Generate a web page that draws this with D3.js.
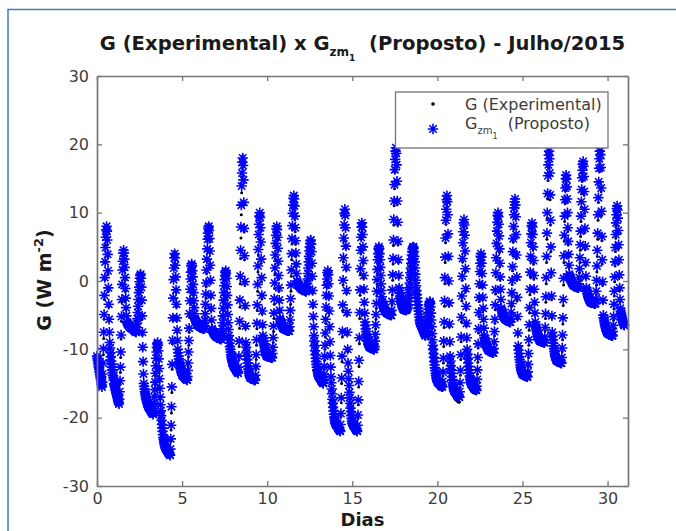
<!DOCTYPE html>
<html>
<head>
<meta charset="utf-8">
<script src="https://cdn.jsdelivr.net/npm/d3@7"></script>
<style>
  html, body { margin: 0; padding: 0; background: #ffffff; }
  svg { display: block; }
  text { font-family: "DejaVu Sans", "Liberation Sans", sans-serif; }
</style>
</head>
<body>
<svg id="chart" width="676" height="531"></svg>
<script>
// Half-hourly samples: each row is one day of July 2015 (48 values, W m-2)
const amostrasPorDia = 48;
const ticksDias = [0, 5, 10, 15, 20, 25, 30];
const ticksG = [-30, -20, -10, 0, 10, 20, 30];

// G measured (experimental)
const gExperimental = [
  [-11.0,-11.4,-11.6,-11.9,-12.3,-12.7,-12.9,-13.2,-13.6,-14.0,-14.2,-14.5,-14.8,-15.2,-15.6,-14.9,-13.9,-12.6,-10.8,-8.4,-5.6,-2.7,0.2,2.9,5.3,6.9,7.8,8.2,7.4,6.0,3.6,1.0,-1.5,-3.8,-5.9,-7.6,-9.1,-9.8,-10.6,-11.1,-11.7,-12.3,-12.9,-13.2,-13.6,-13.9,-14.2,-14.6],
  [-15.1,-15.2,-15.4,-15.7,-15.9,-16.1,-16.4,-16.5,-16.7,-17.0,-17.1,-17.4,-17.7,-17.9,-18.1,-17.5,-16.5,-15.1,-13.4,-11.2,-8.5,-5.9,-3.1,-0.6,1.8,3.3,4.4,4.7,4.2,3.1,1.7,0.1,-1.5,-2.8,-4.1,-5.2,-6.1,-6.2,-6.3,-6.2,-6.5,-6.5,-6.4,-6.7,-6.7,-6.6,-6.8,-6.9],
  [-6.9,-6.9,-7.0,-6.9,-7.0,-7.1,-7.1,-7.2,-7.1,-7.2,-7.3,-7.4,-7.4,-7.5,-7.6,-7.3,-7.0,-6.6,-6.0,-5.2,-4.2,-3.1,-2.0,-1.0,0.1,0.7,1.1,1.2,0.5,-1.0,-3.2,-5.6,-7.9,-10.0,-12.0,-13.7,-15.1,-15.5,-15.9,-16.3,-16.6,-16.9,-17.2,-17.4,-17.6,-17.8,-18.0,-18.1],
  [-18.4,-18.5,-18.6,-18.7,-18.7,-18.8,-18.9,-19.0,-19.1,-19.2,-19.3,-19.3,-19.4,-19.5,-19.6,-19.3,-19.0,-18.4,-17.6,-16.5,-15.2,-13.9,-12.6,-11.4,-10.3,-9.5,-9.0,-8.8,-9.3,-10.3,-11.7,-13.2,-14.7,-16.0,-17.2,-18.2,-19.1,-19.8,-20.5,-21.1,-21.6,-22.1,-22.6,-23.0,-23.4,-23.7,-24.0,-24.2],
  [-24.5,-24.6,-24.7,-24.8,-24.8,-24.9,-25.0,-25.1,-25.2,-25.3,-25.4,-25.4,-25.5,-25.6,-25.7,-24.8,-23.5,-21.8,-19.3,-16.3,-12.9,-9.2,-5.7,-2.4,0.5,2.3,3.7,4.3,3.5,2.2,0.3,-1.7,-3.8,-5.8,-7.5,-8.9,-10.1,-10.6,-11.1,-11.5,-11.9,-12.2,-12.5,-12.8,-13.0,-13.3,-13.4,-13.6],
  [-13.8,-13.9,-13.9,-14.0,-14.0,-14.1,-14.1,-14.2,-14.3,-14.3,-14.4,-14.4,-14.5,-14.5,-14.6,-14.2,-13.5,-12.5,-11.1,-9.4,-7.5,-5.3,-3.2,-1.3,0.5,1.6,2.4,2.7,2.2,1.3,0.3,-0.9,-2.1,-3.2,-4.1,-4.9,-5.6,-5.7,-5.9,-6.0,-6.1,-6.2,-6.3,-6.3,-6.4,-6.5,-6.5,-6.6],
  [-6.6,-6.7,-6.7,-6.8,-6.8,-6.8,-6.9,-6.9,-6.9,-6.9,-7.0,-7.0,-7.0,-7.1,-7.1,-6.8,-6.2,-5.3,-4.0,-2.5,-0.8,1.1,2.9,4.6,6.3,7.3,8.0,8.3,7.5,6.1,4.1,1.9,-0.3,-2.4,-4.3,-5.9,-7.1,-7.2,-7.4,-7.5,-7.6,-7.7,-7.8,-7.8,-7.9,-8.0,-8.0,-8.1],
  [-8.1,-8.2,-8.2,-8.3,-8.3,-8.3,-8.3,-8.4,-8.4,-8.4,-8.5,-8.5,-8.5,-8.6,-8.6,-8.3,-8.0,-7.4,-6.6,-5.6,-4.4,-3.2,-2.0,-0.9,0.2,1.0,1.5,1.8,1.2,0.3,-1.0,-2.4,-3.8,-5.1,-6.3,-7.2,-8.1,-8.7,-9.2,-9.7,-10.1,-10.5,-10.8,-11.2,-11.4,-11.7,-11.9,-12.1],
  [-12.4,-12.5,-12.6,-12.6,-12.7,-12.8,-12.9,-13.0,-13.1,-13.1,-13.2,-13.3,-13.4,-13.5,-13.6,-12.8,-11.6,-9.6,-6.9,-3.8,-0.4,3.3,6.3,9.7,12.9,15.2,17.2,18.3,17.1,14.7,11.2,7.2,3.1,-0.6,-4.0,-6.9,-9.2,-9.8,-10.5,-11.1,-11.6,-12.1,-12.6,-13.0,-13.3,-13.6,-13.9,-14.1],
  [-14.2,-14.2,-14.2,-14.3,-14.3,-14.3,-14.4,-14.4,-14.4,-14.5,-14.5,-14.5,-14.6,-14.6,-14.7,-14.0,-13.0,-11.5,-9.4,-7.0,-4.3,-1.5,1.3,3.8,6.2,7.9,9.3,10.1,9.2,7.5,5.2,2.6,-0.1,-2.6,-4.8,-6.7,-8.2,-8.5,-8.9,-9.3,-9.6,-9.9,-10.1,-10.4,-10.6,-10.8,-10.9,-11.1],
  [-11.0,-11.1,-11.0,-11.1,-11.1,-11.2,-11.1,-11.2,-11.2,-11.2,-11.3,-11.2,-11.3,-11.3,-11.4,-10.9,-10.2,-9.0,-7.4,-5.5,-3.4,-1.1,1.1,3.2,5.0,6.4,7.5,8.1,7.4,6.1,4.4,2.4,0.3,-1.5,-3.1,-4.5,-5.6,-5.8,-6.0,-6.2,-6.3,-6.5,-6.6,-6.7,-6.8,-6.9,-7.0,-7.1],
  [-7.0,-7.1,-7.1,-7.1,-7.2,-7.2,-7.2,-7.2,-7.3,-7.3,-7.3,-7.3,-7.4,-7.4,-7.4,-7.0,-6.2,-5.0,-3.4,-1.5,0.7,3.1,5.4,7.5,9.4,10.8,11.9,12.6,11.8,10.6,9.0,7.2,5.4,3.7,2.1,0.8,-0.2,-0.3,-0.4,-0.5,-0.6,-0.7,-0.8,-0.9,-0.9,-1.0,-1.1,-1.1],
  [-1.2,-1.2,-1.2,-1.3,-1.3,-1.3,-1.4,-1.4,-1.4,-1.5,-1.5,-1.5,-1.6,-1.6,-1.6,-1.4,-1.1,-0.7,-0.1,0.6,1.4,2.3,3.2,4.0,4.8,5.4,5.9,6.2,5.3,4.0,2.2,0.3,-1.8,-3.8,-5.5,-6.9,-8.1,-8.9,-9.6,-10.3,-10.9,-11.4,-11.9,-12.3,-12.7,-13.1,-13.3,-13.6],
  [-13.9,-14.0,-14.1,-14.2,-14.2,-14.3,-14.4,-14.5,-14.6,-14.7,-14.8,-14.8,-14.9,-15.0,-15.1,-14.7,-14.0,-13.0,-11.6,-10.0,-8.2,-6.2,-4.3,-2.5,-0.9,0.2,1.2,1.6,0.8,-0.6,-2.5,-4.7,-7.0,-9.1,-11.1,-12.8,-14.1,-15.0,-15.9,-16.6,-17.4,-18.0,-18.6,-19.1,-19.6,-20.0,-20.3,-20.7],
  [-20.9,-21.0,-21.1,-21.2,-21.2,-21.3,-21.4,-21.5,-21.6,-21.7,-21.8,-21.8,-21.9,-22.0,-22.2,-21.3,-19.9,-17.8,-15.0,-11.8,-8.2,-4.3,-0.6,2.8,5.9,8.0,9.8,10.6,9.5,7.6,4.8,1.6,-1.8,-5.0,-7.9,-10.3,-12.2,-13.3,-14.4,-15.4,-16.4,-17.2,-18.0,-18.7,-19.2,-19.8,-20.2,-20.6],
  [-20.9,-21.0,-21.1,-21.2,-21.3,-21.3,-21.4,-21.5,-21.6,-21.7,-21.8,-21.9,-21.9,-22.0,-22.2,-21.4,-20.1,-18.1,-15.5,-12.5,-9.2,-5.5,-2.1,1.1,4.0,6.1,7.8,8.7,7.8,6.6,4.7,2.6,0.4,-1.6,-3.4,-4.9,-6.1,-6.6,-7.1,-7.5,-7.9,-8.2,-8.5,-8.8,-9.0,-9.3,-9.4,-9.6],
  [-9.7,-9.7,-9.7,-9.8,-9.8,-9.8,-9.9,-9.9,-9.9,-10.0,-10.0,-10.0,-10.1,-10.1,-10.2,-9.8,-9.2,-8.3,-7.0,-5.6,-4.0,-2.2,-0.5,1.1,2.6,3.7,4.6,5.1,4.6,3.8,2.8,1.7,0.5,-0.7,-1.6,-2.4,-3.1,-3.3,-3.5,-3.7,-3.8,-4.0,-4.1,-4.2,-4.3,-4.4,-4.5,-4.6],
  [-4.6,-4.7,-4.7,-4.8,-4.8,-4.8,-4.8,-4.9,-4.9,-4.9,-5.0,-5.0,-5.0,-5.1,-5.1,-4.6,-3.5,-2.0,0.1,2.5,5.2,8.2,11.0,13.5,15.9,17.6,19.1,19.8,18.6,16.7,14.2,11.2,8.2,5.3,2.7,0.5,-1.2,-1.5,-1.9,-2.3,-2.6,-2.9,-3.2,-3.4,-3.6,-3.8,-3.9,-4.1],
  [-4.2,-4.2,-4.3,-4.3,-4.2,-4.3,-4.3,-4.4,-4.3,-4.3,-4.2,-4.1,-3.9,-3.6,-3.1,-2.5,-1.8,-1.0,-0.2,0.6,1.4,2.2,2.9,3.6,4.2,4.7,5.1,5.4,5.5,5.2,4.6,3.8,2.9,2.0,1.0,0.0,-0.8,-1.5,-2.1,-2.6,-3.1,-3.6,-4.1,-4.5,-5.0,-5.4,-5.8,-6.1],
  [-6.3,-6.4,-6.6,-6.7,-6.8,-6.9,-7.1,-7.2,-7.3,-7.4,-7.6,-7.7,-7.8,-8.0,-8.1,-8.0,-7.8,-7.5,-7.0,-6.5,-5.9,-5.3,-4.7,-4.1,-3.6,-3.2,-2.9,-2.8,-3.2,-3.8,-4.8,-5.9,-6.9,-7.9,-8.8,-9.5,-10.1,-10.7,-11.3,-11.9,-12.4,-12.8,-13.2,-13.6,-13.9,-14.2,-14.4,-14.6],
  [-14.8,-14.9,-15.0,-15.1,-15.1,-15.2,-15.3,-15.4,-15.5,-15.6,-15.7,-15.8,-15.9,-15.9,-16.0,-15.2,-13.9,-12.0,-9.6,-6.8,-3.7,-0.4,2.7,5.6,8.3,10.1,11.6,12.4,11.5,9.5,6.6,3.2,-0.4,-3.6,-6.7,-9.2,-11.2,-11.9,-12.6,-13.2,-13.8,-14.4,-14.9,-15.4,-15.8,-16.2,-16.6,-16.9],
  [-17.1,-17.2,-17.2,-17.3,-17.3,-17.4,-17.4,-17.5,-17.5,-17.6,-17.6,-17.6,-17.7,-17.7,-17.7,-16.8,-15.6,-13.8,-11.5,-8.9,-6.0,-2.9,0.1,2.8,5.2,7.0,8.4,9.1,8.1,6.5,4.1,1.4,-1.5,-4.1,-6.6,-8.6,-10.2,-10.9,-11.6,-12.3,-12.9,-13.5,-14.0,-14.5,-15.0,-15.4,-15.7,-16.0],
  [-16.1,-16.1,-16.2,-16.2,-16.2,-16.3,-16.3,-16.3,-16.3,-16.4,-16.4,-16.4,-16.4,-16.4,-16.4,-15.8,-14.9,-13.6,-11.9,-9.8,-7.6,-5.2,-3.0,-0.9,1.0,2.4,3.5,4.1,3.4,2.4,0.8,-0.9,-2.7,-4.3,-5.8,-7.1,-8.1,-8.4,-8.6,-8.9,-9.1,-9.3,-9.5,-9.6,-9.8,-9.9,-10.0,-10.1],
  [-10.2,-10.2,-10.3,-10.3,-10.3,-10.4,-10.4,-10.4,-10.5,-10.5,-10.5,-10.6,-10.6,-10.6,-10.7,-10.1,-9.3,-8.0,-6.2,-4.2,-1.9,0.6,2.9,5.0,7.0,8.4,9.5,10.2,9.3,8.0,6.2,4.2,2.1,0.2,-1.5,-2.9,-4.1,-4.3,-4.5,-4.7,-4.8,-5.0,-5.1,-5.2,-5.3,-5.4,-5.5,-5.6],
  [-5.7,-5.7,-5.7,-5.8,-5.8,-5.8,-5.9,-5.9,-5.9,-6.0,-6.0,-6.0,-6.1,-6.1,-6.1,-5.7,-4.9,-3.7,-2.2,-0.5,1.5,3.7,5.7,7.6,9.4,10.6,11.6,12.2,11.0,9.1,6.4,3.3,0.1,-2.9,-5.6,-7.9,-9.7,-10.2,-10.7,-11.2,-11.6,-12.0,-12.4,-12.7,-13.0,-13.2,-13.4,-13.6],
  [-13.7,-13.7,-13.8,-13.8,-13.8,-13.9,-13.9,-13.9,-14.0,-14.0,-14.0,-14.1,-14.1,-14.1,-14.2,-13.5,-12.6,-11.2,-9.4,-7.2,-4.7,-2.0,0.6,2.9,5.1,6.6,7.9,8.6,7.8,6.5,4.6,2.5,0.3,-1.6,-3.4,-4.9,-6.1,-6.5,-6.8,-7.1,-7.3,-7.6,-7.8,-8.0,-8.2,-8.3,-8.5,-8.6],
  [-8.7,-8.8,-8.8,-8.8,-8.8,-8.9,-8.9,-8.9,-9.0,-9.0,-9.0,-9.0,-9.1,-9.1,-9.1,-8.5,-7.3,-5.5,-3.1,-0.4,2.7,6.1,9.2,12.0,14.7,16.6,18.2,19.2,17.7,15.3,11.9,8.2,4.3,0.6,-2.7,-5.4,-7.6,-8.2,-8.7,-9.2,-9.6,-10.0,-10.4,-10.7,-11.0,-11.2,-11.4,-11.6],
  [-11.7,-11.7,-11.8,-11.8,-11.8,-11.9,-11.9,-11.9,-12.0,-12.0,-12.0,-12.1,-12.1,-12.1,-12.2,-11.5,-10.3,-8.6,-6.3,-3.6,-0.6,2.7,5.8,8.7,11.3,13.2,14.8,15.7,14.7,13.4,11.5,9.4,7.3,5.3,3.5,2.0,0.8,0.7,0.5,0.3,0.2,0.0,-0.1,-0.2,-0.3,-0.4,-0.5,-0.6],
  [-0.7,-0.7,-0.7,-0.8,-0.8,-0.8,-0.9,-0.9,-0.9,-1.0,-1.0,-1.0,-1.1,-1.1,-1.1,-0.6,0.1,1.2,2.7,4.5,6.5,8.7,10.8,12.8,14.6,15.9,17.0,17.6,16.6,14.9,12.6,9.9,7.1,4.6,2.3,0.4,-1.1,-1.4,-1.6,-1.9,-2.1,-2.3,-2.4,-2.6,-2.7,-2.8,-3.0,-3.1],
  [-3.1,-3.1,-3.2,-3.2,-3.2,-3.2,-3.3,-3.3,-3.3,-3.3,-3.3,-3.4,-3.4,-3.4,-3.4,-2.9,-2.0,-0.6,1.3,3.6,6.1,8.9,11.5,13.9,16.1,17.6,18.9,19.7,18.3,16.2,13.1,9.6,5.9,2.5,-0.6,-3.2,-5.2,-5.5,-5.8,-6.1,-6.4,-6.6,-6.8,-7.0,-7.2,-7.3,-7.5,-7.6],
  [-7.7,-7.7,-7.7,-7.8,-7.8,-7.8,-7.9,-7.9,-7.9,-8.0,-8.0,-8.0,-8.1,-8.1,-8.1,-7.6,-6.9,-5.7,-4.1,-2.2,-0.1,2.2,4.3,6.3,8.1,9.5,10.5,11.1,10.3,8.9,7.0,4.8,2.6,0.5,-1.4,-3.0,-4.2,-4.5,-4.8,-5.1,-5.3,-5.5,-5.7,-5.9,-6.1,-6.3,-6.5,-6.6]
];

// G estimated by the proposed model (G_zm1)
const gProposto = [
  [-11.0,-11.3,-11.6,-12.0,-12.3,-12.6,-12.9,-13.3,-13.6,-13.9,-14.2,-14.5,-14.9,-15.2,-15.5,-14.8,-13.6,-12.0,-9.9,-7.5,-4.9,-2.1,0.5,2.8,4.9,6.4,7.5,8.0,7.3,6.0,3.9,1.5,-1.0,-3.4,-5.6,-7.5,-9.0,-9.8,-10.5,-11.1,-11.7,-12.2,-12.6,-13.0,-13.4,-13.8,-14.1,-14.5],
  [-15.0,-15.2,-15.4,-15.6,-15.9,-16.1,-16.3,-16.5,-16.7,-16.9,-17.1,-17.4,-17.6,-17.8,-18.0,-17.3,-16.2,-14.6,-12.6,-10.4,-7.9,-5.2,-2.7,-0.5,1.6,2.9,4.1,4.5,4.1,3.2,2.0,0.5,-1.1,-2.5,-3.9,-5.1,-6.0,-6.1,-6.3,-6.2,-6.4,-6.5,-6.4,-6.6,-6.7,-6.6,-6.8,-6.8],
  [-6.8,-6.9,-6.9,-6.9,-7.0,-7.0,-7.1,-7.1,-7.1,-7.2,-7.3,-7.3,-7.4,-7.4,-7.5,-7.2,-6.8,-6.2,-5.5,-4.6,-3.7,-2.7,-1.7,-0.9,-0.1,0.4,0.8,1.0,0.4,-0.9,-2.8,-5.1,-7.5,-9.7,-11.8,-13.6,-15.0,-15.4,-15.8,-16.2,-16.5,-16.8,-17.1,-17.3,-17.5,-17.7,-17.9,-18.0],
  [-18.3,-18.4,-18.5,-18.6,-18.6,-18.7,-18.8,-18.9,-19.0,-19.1,-19.2,-19.2,-19.3,-19.4,-19.5,-19.2,-18.7,-17.9,-17.0,-15.9,-14.8,-13.5,-12.4,-11.3,-10.4,-9.7,-9.2,-9.0,-9.4,-10.2,-11.4,-12.8,-14.3,-15.7,-17.0,-18.1,-19.0,-19.7,-20.4,-21.0,-21.5,-22.0,-22.5,-22.9,-23.2,-23.5,-23.8,-24.0],
  [-24.3,-24.4,-24.5,-24.6,-24.6,-24.7,-24.8,-24.9,-25.0,-25.1,-25.2,-25.2,-25.3,-25.4,-25.5,-24.6,-23.1,-21.1,-18.4,-15.5,-12.2,-8.7,-5.4,-2.5,0.2,1.9,3.4,4.0,3.4,2.3,0.6,-1.3,-3.4,-5.4,-7.2,-8.7,-10.0,-10.5,-11.0,-11.4,-11.8,-12.1,-12.4,-12.7,-12.9,-13.2,-13.3,-13.5],
  [-13.7,-13.8,-13.8,-13.9,-13.9,-14.0,-14.0,-14.1,-14.2,-14.2,-14.3,-14.3,-14.4,-14.4,-14.5,-14.0,-13.1,-12.0,-10.4,-8.7,-6.9,-4.8,-2.9,-1.2,0.3,1.3,2.2,2.5,2.2,1.5,0.6,-0.5,-1.7,-2.9,-3.9,-4.8,-5.5,-5.6,-5.8,-5.9,-6.0,-6.1,-6.2,-6.3,-6.3,-6.4,-6.5,-6.5],
  [-6.6,-6.6,-6.7,-6.7,-6.7,-6.7,-6.8,-6.8,-6.8,-6.9,-6.9,-6.9,-7.0,-7.0,-7.0,-6.6,-5.8,-4.8,-3.4,-1.9,-0.3,1.6,3.2,4.7,6.1,7.0,7.7,8.0,7.4,6.2,4.4,2.3,0.1,-2.1,-4.0,-5.7,-7.0,-7.1,-7.3,-7.4,-7.5,-7.6,-7.7,-7.8,-7.8,-7.9,-8.0,-8.0],
  [-8.1,-8.1,-8.2,-8.2,-8.2,-8.2,-8.3,-8.3,-8.3,-8.4,-8.4,-8.4,-8.5,-8.5,-8.5,-8.2,-7.7,-7.0,-6.1,-5.1,-4.0,-2.8,-1.7,-0.7,0.2,0.8,1.3,1.5,1.1,0.4,-0.8,-2.1,-3.5,-4.9,-6.1,-7.1,-8.0,-8.6,-9.1,-9.6,-10.0,-10.4,-10.8,-11.1,-11.4,-11.6,-11.8,-12.0],
  [-12.3,-12.4,-12.5,-12.6,-12.6,-12.7,-12.8,-12.9,-13.0,-13.1,-13.2,-13.2,-13.3,-13.4,-13.5,-12.6,-11.0,-8.8,-5.9,-2.8,0.7,4.5,7.9,11.1,13.9,15.8,17.4,18.0,16.9,14.8,11.5,7.7,3.7,-0.1,-3.6,-6.6,-9.0,-9.7,-10.4,-11.0,-11.5,-12.0,-12.5,-12.9,-13.2,-13.5,-13.8,-14.0],
  [-14.1,-14.1,-14.2,-14.2,-14.2,-14.2,-14.3,-14.3,-14.3,-14.4,-14.4,-14.4,-14.5,-14.5,-14.5,-13.8,-12.5,-10.8,-8.6,-6.2,-3.5,-0.5,2.2,4.6,6.8,8.3,9.5,10.0,9.3,7.8,5.7,3.2,0.5,-2.1,-4.4,-6.4,-8.0,-8.4,-8.8,-9.2,-9.5,-9.8,-10.1,-10.3,-10.5,-10.7,-10.9,-11.0],
  [-11.0,-11.0,-11.0,-11.0,-11.1,-11.1,-11.1,-11.1,-11.1,-11.1,-11.2,-11.2,-11.2,-11.2,-11.2,-10.6,-9.7,-8.3,-6.6,-4.7,-2.6,-0.3,1.9,3.8,5.5,6.7,7.6,8.0,7.5,6.4,4.8,2.9,0.8,-1.0,-2.8,-4.3,-5.5,-5.7,-5.9,-6.1,-6.3,-6.4,-6.5,-6.7,-6.8,-6.9,-6.9,-7.0],
  [-7.0,-7.0,-7.0,-7.1,-7.1,-7.1,-7.1,-7.2,-7.2,-7.2,-7.2,-7.2,-7.3,-7.3,-7.3,-6.7,-5.7,-4.3,-2.6,-0.6,1.6,4.0,6.2,8.1,9.9,11.1,12.1,12.5,12.0,11.0,9.5,7.8,5.9,4.1,2.5,1.1,0.0,-0.1,-0.3,-0.4,-0.5,-0.6,-0.7,-0.8,-0.8,-0.9,-1.0,-1.0],
  [-1.1,-1.1,-1.2,-1.2,-1.2,-1.2,-1.3,-1.3,-1.3,-1.4,-1.4,-1.4,-1.5,-1.5,-1.5,-1.3,-0.9,-0.4,0.3,1.1,1.9,2.8,3.6,4.4,5.0,5.5,5.9,6.0,5.4,4.3,2.6,0.7,-1.4,-3.4,-5.2,-6.7,-8.0,-8.8,-9.5,-10.2,-10.8,-11.3,-11.8,-12.2,-12.6,-13.0,-13.2,-13.5],
  [-13.8,-13.9,-14.0,-14.1,-14.1,-14.2,-14.3,-14.4,-14.5,-14.6,-14.7,-14.7,-14.8,-14.9,-15.0,-14.5,-13.7,-12.5,-11.0,-9.4,-7.6,-5.6,-3.8,-2.1,-0.6,0.3,1.2,1.5,0.9,-0.4,-2.2,-4.4,-6.7,-8.9,-10.9,-12.6,-14.0,-14.9,-15.8,-16.5,-17.3,-17.9,-18.5,-19.0,-19.5,-19.9,-20.2,-20.5],
  [-20.8,-20.9,-21.0,-21.1,-21.1,-21.2,-21.3,-21.4,-21.5,-21.6,-21.7,-21.7,-21.8,-21.9,-22.0,-21.0,-19.4,-17.1,-14.2,-11.0,-7.4,-3.5,0.1,3.4,6.3,8.2,9.9,10.5,9.6,7.8,5.1,2.0,-1.4,-4.6,-7.5,-10.0,-12.0,-13.2,-14.3,-15.3,-16.3,-17.1,-17.9,-18.6,-19.1,-19.7,-20.1,-20.5],
  [-20.8,-20.9,-21.0,-21.1,-21.2,-21.2,-21.3,-21.4,-21.5,-21.6,-21.7,-21.8,-21.8,-21.9,-22.0,-21.1,-19.6,-17.4,-14.7,-11.6,-8.3,-4.6,-1.3,1.8,4.5,6.4,7.9,8.5,7.9,6.8,5.0,3.0,0.8,-1.2,-3.1,-4.7,-6.0,-6.5,-7.0,-7.4,-7.8,-8.1,-8.4,-8.7,-8.9,-9.2,-9.3,-9.5],
  [-9.6,-9.6,-9.7,-9.7,-9.7,-9.7,-9.8,-9.8,-9.8,-9.9,-9.9,-9.9,-10.0,-10.0,-10.0,-9.6,-8.8,-7.8,-6.4,-4.9,-3.3,-1.5,0.2,1.7,3.1,4.0,4.7,5.0,4.7,4.0,3.1,2.0,0.8,-0.4,-1.4,-2.3,-3.0,-3.2,-3.4,-3.6,-3.8,-3.9,-4.0,-4.2,-4.3,-4.4,-4.4,-4.5],
  [-4.6,-4.6,-4.7,-4.7,-4.7,-4.7,-4.8,-4.8,-4.8,-4.9,-4.9,-4.9,-5.0,-5.0,-5.0,-4.3,-3.0,-1.3,0.9,3.3,6.0,9.0,11.7,14.1,16.3,17.8,19.0,19.5,18.7,17.0,14.6,11.7,8.6,5.8,3.1,0.8,-1.0,-1.4,-1.8,-2.2,-2.5,-2.8,-3.1,-3.3,-3.5,-3.7,-3.9,-4.0],
  [-4.1,-4.1,-4.2,-4.2,-4.1,-4.2,-4.2,-4.3,-4.2,-4.2,-4.1,-4.0,-3.8,-3.5,-3.0,-2.4,-1.7,-1.0,-0.3,0.5,1.2,1.9,2.6,3.2,3.8,4.3,4.7,4.9,5.0,4.8,4.3,3.6,2.8,1.9,1.0,0.1,-0.7,-1.4,-2.0,-2.5,-3.0,-3.5,-4.0,-4.4,-4.9,-5.3,-5.7,-6.0],
  [-6.2,-6.3,-6.5,-6.6,-6.7,-6.8,-7.0,-7.1,-7.2,-7.3,-7.5,-7.6,-7.7,-7.9,-8.0,-7.9,-7.6,-7.3,-6.8,-6.3,-5.8,-5.2,-4.6,-4.1,-3.7,-3.4,-3.1,-3.0,-3.3,-3.8,-4.7,-5.7,-6.7,-7.7,-8.6,-9.4,-10.0,-10.6,-11.2,-11.8,-12.3,-12.7,-13.1,-13.5,-13.8,-14.1,-14.3,-14.5],
  [-14.7,-14.8,-14.8,-14.9,-14.9,-15.0,-15.0,-15.1,-15.1,-15.2,-15.3,-15.3,-15.4,-15.4,-15.5,-14.7,-13.3,-11.3,-8.8,-6.0,-2.9,0.5,3.5,6.3,8.9,10.5,11.9,12.5,11.6,9.7,6.9,3.6,0.0,-3.2,-6.3,-8.9,-11.0,-11.7,-12.4,-13.0,-13.5,-14.0,-14.5,-14.9,-15.2,-15.5,-15.8,-16.0],
  [-16.1,-16.2,-16.2,-16.3,-16.4,-16.4,-16.5,-16.5,-16.6,-16.7,-16.7,-16.8,-16.9,-16.9,-17.0,-16.2,-14.9,-13.1,-10.8,-8.2,-5.3,-2.2,0.7,3.3,5.6,7.2,8.5,9.0,8.2,6.7,4.4,1.8,-1.1,-3.7,-6.2,-8.3,-10.0,-10.7,-11.4,-12.0,-12.5,-13.0,-13.5,-13.9,-14.2,-14.5,-14.8,-15.0],
  [-15.1,-15.2,-15.2,-15.3,-15.4,-15.4,-15.5,-15.5,-15.6,-15.7,-15.7,-15.8,-15.9,-15.9,-16.0,-15.4,-14.4,-13.0,-11.2,-9.2,-7.0,-4.6,-2.4,-0.4,1.4,2.6,3.6,4.0,3.5,2.6,1.1,-0.6,-2.4,-4.0,-5.6,-6.9,-8.0,-8.3,-8.5,-8.8,-9.0,-9.2,-9.4,-9.5,-9.7,-9.8,-9.9,-10.0],
  [-10.1,-10.1,-10.2,-10.2,-10.2,-10.2,-10.3,-10.3,-10.3,-10.4,-10.4,-10.4,-10.5,-10.5,-10.5,-9.9,-8.9,-7.4,-5.6,-3.5,-1.3,1.2,3.4,5.5,7.3,8.6,9.6,10.0,9.4,8.3,6.6,4.7,2.6,0.6,-1.2,-2.7,-4.0,-4.2,-4.4,-4.6,-4.8,-4.9,-5.0,-5.2,-5.3,-5.4,-5.4,-5.5],
  [-5.6,-5.6,-5.7,-5.7,-5.7,-5.7,-5.8,-5.8,-5.8,-5.9,-5.9,-5.9,-6.0,-6.0,-6.0,-5.5,-4.6,-3.3,-1.7,0.1,2.1,4.3,6.2,8.0,9.7,10.7,11.6,12.0,11.1,9.4,6.8,3.8,0.6,-2.4,-5.2,-7.6,-9.5,-10.1,-10.6,-11.1,-11.5,-11.9,-12.3,-12.6,-12.9,-13.1,-13.3,-13.5],
  [-13.6,-13.6,-13.7,-13.7,-13.7,-13.7,-13.8,-13.8,-13.8,-13.9,-13.9,-13.9,-14.0,-14.0,-14.0,-13.3,-12.2,-10.6,-8.6,-6.4,-3.9,-1.2,1.3,3.6,5.6,6.9,8.1,8.5,7.9,6.8,5.0,3.0,0.8,-1.2,-3.1,-4.7,-6.0,-6.4,-6.7,-7.0,-7.3,-7.5,-7.7,-7.9,-8.1,-8.3,-8.4,-8.5],
  [-8.7,-8.7,-8.7,-8.8,-8.8,-8.8,-8.8,-8.9,-8.9,-8.9,-8.9,-8.9,-9.0,-9.0,-9.0,-8.2,-6.8,-4.8,-2.3,0.5,3.6,7.0,10.0,12.8,15.4,17.0,18.4,19.0,17.9,15.8,12.6,8.9,5.0,1.2,-2.2,-5.1,-7.5,-8.1,-8.6,-9.1,-9.5,-9.9,-10.3,-10.6,-10.9,-11.1,-11.3,-11.5],
  [-11.6,-11.6,-11.7,-11.7,-11.7,-11.7,-11.8,-11.8,-11.8,-11.9,-11.9,-11.9,-12.0,-12.0,-12.0,-11.2,-9.8,-7.9,-5.4,-2.7,0.4,3.7,6.7,9.5,11.9,13.6,15.0,15.5,14.9,13.8,12.0,10.0,7.8,5.8,3.9,2.3,1.0,0.8,0.6,0.4,0.2,0.1,0.0,-0.2,-0.3,-0.4,-0.4,-0.5],
  [-0.6,-0.6,-0.7,-0.7,-0.7,-0.7,-0.8,-0.8,-0.8,-0.9,-0.9,-0.9,-1.0,-1.0,-1.0,-0.4,0.5,1.8,3.4,5.3,7.3,9.5,11.6,13.4,15.1,16.2,17.1,17.5,16.8,15.3,13.1,10.5,7.7,5.1,2.7,0.7,-1.0,-1.3,-1.5,-1.8,-2.0,-2.2,-2.4,-2.5,-2.7,-2.8,-2.9,-3.0],
  [-3.1,-3.1,-3.1,-3.1,-3.2,-3.2,-3.2,-3.2,-3.2,-3.2,-3.3,-3.3,-3.3,-3.3,-3.3,-2.6,-1.5,0.1,2.2,4.5,7.0,9.7,12.2,14.5,16.5,17.9,19.0,19.5,18.5,16.6,13.6,10.2,6.5,3.1,-0.1,-2.8,-5.0,-5.4,-5.7,-6.0,-6.3,-6.5,-6.7,-6.9,-7.1,-7.3,-7.4,-7.5],
  [-7.6,-7.6,-7.7,-7.7,-7.7,-7.7,-7.8,-7.8,-7.8,-7.9,-7.9,-7.9,-8.0,-8.0,-8.0,-7.4,-6.5,-5.2,-3.4,-1.5,0.6,2.8,4.9,6.8,8.5,9.7,10.6,11.0,10.4,9.2,7.4,5.3,3.1,0.9,-1.0,-2.7,-4.0,-4.4,-4.7,-5.0,-5.3,-5.5,-5.7,-5.9,-6.1,-6.3,-6.4,-6.5]
];

const svg = d3.select("#chart");
const corEixo = "#767676";
const corTexto = "#3c3c3c";

const x = d3.scaleLinear().domain([0, 31.2]).range([97, 628]);
const y = d3.scaleLinear().domain([-30, 30]).range([486, 76]);

// outer frame around the figure
svg.append("path")
  .attr("d", "M8,531V9.5H676")
  .attr("fill", "none")
  .attr("stroke", "#3f7cba")
  .attr("stroke-width", 1.5);

// flatten day rows into (time, value) samples
const serie = rows => rows.flatMap((row, dia) =>
  row.map((g, k) => ({ t: dia + k / amostrasPorDia, g })));

const plot = svg.append("g");

plot.selectAll("circle.exp")
  .data(serie(gExperimental))
  .join("circle")
  .attr("class", "exp")
  .attr("cx", d => x(d.t))
  .attr("cy", d => y(d.g))
  .attr("r", 1.5)
  .attr("fill", "#000");

// eight-armed asterisk marker
const asterisco = "M-5.2,0H5.2M0,-5.2V5.2M-3.7,-3.7L3.7,3.7M-3.7,3.7L3.7,-3.7";

plot.selectAll("path.prop")
  .data(serie(gProposto))
  .join("path")
  .attr("class", "prop")
  .attr("d", asterisco)
  .attr("transform", d => `translate(${x(d.t)},${y(d.g)})`)
  .attr("fill", "none")
  .attr("stroke", "#0000ff")
  .attr("stroke-width", 1.6);

// axes box with inward ticks on all four sides
function estilo(g, comRotulos) {
  g.selectAll(".domain").attr("stroke", corEixo).attr("stroke-width", 1.7);
  g.selectAll(".tick line").attr("stroke", corEixo).attr("stroke-width", 1.3);
  g.selectAll(".tick text")
    .attr("fill", corTexto)
    .style("font-size", "16px")
    .style("font-family", '"DejaVu Sans", sans-serif')
    .attr("display", comRotulos ? null : "none");
}

svg.append("g").attr("transform", "translate(0,486)")
  .call(d3.axisBottom(x).tickValues(ticksDias).tickFormat(d => String(d))
    .tickSizeInner(-5).tickSizeOuter(0).tickPadding(7))
  .call(g => estilo(g, true));

svg.append("g").attr("transform", "translate(0,76)")
  .call(d3.axisTop(x).tickValues(ticksDias).tickSizeInner(-5).tickSizeOuter(0))
  .call(g => estilo(g, false));

svg.append("g").attr("transform", "translate(97,0)")
  .call(d3.axisLeft(y).tickValues(ticksG).tickFormat(d => String(d))
    .tickSizeInner(-5).tickSizeOuter(0).tickPadding(8))
  .call(g => estilo(g, true));

svg.append("g").attr("transform", "translate(628,0)")
  .call(d3.axisRight(y).tickValues(ticksG).tickSizeInner(-5).tickSizeOuter(0))
  .call(g => estilo(g, false));

// title with nested subscript
const titulo = svg.append("text")
  .attr("x", 362.5).attr("y", 50)
  .attr("text-anchor", "middle")
  .attr("fill", "#1a1a1a")
  .style("font-size", "19.6px")
  .style("font-weight", "bold");
titulo.append("tspan").text("G (Experimental) x G");
titulo.append("tspan").attr("dy", 6).style("font-size", "12px").text("zm");
titulo.append("tspan").attr("dy", 5).style("font-size", "9px").text("1");
titulo.append("tspan").attr("dy", -11).text("\u00a0 (Proposto) - Julho/2015");

// axis titles
const rotY = svg.append("text")
  .attr("transform", "translate(51,280) rotate(-90)")
  .attr("text-anchor", "middle")
  .attr("fill", "#1a1a1a")
  .style("font-size", "19px")
  .style("font-weight", "bold");
rotY.append("tspan").text("G (W m");
rotY.append("tspan").attr("dy", -8).style("font-size", "13px").text("-2");
rotY.append("tspan").attr("dy", 8).text(")");

svg.append("text")
  .attr("x", 362.5).attr("y", 526.2)
  .attr("text-anchor", "middle")
  .attr("fill", "#1a1a1a")
  .style("font-size", "18px")
  .style("font-weight", "bold")
  .text("Dias");

// legend
const leg = svg.append("g");
leg.append("rect")
  .attr("x", 395.5).attr("y", 92).attr("width", 212.5).attr("height", 56)
  .attr("fill", "#fff").attr("stroke", corEixo).attr("stroke-width", 1.3);
leg.append("circle").attr("cx", 433).attr("cy", 104).attr("r", 1.8).attr("fill", "#000");
leg.append("path").attr("d", asterisco).attr("transform", "translate(433,129)")
  .attr("fill", "none").attr("stroke", "#0000ff").attr("stroke-width", 1.6);
leg.append("text").attr("x", 465).attr("y", 110)
  .attr("fill", corTexto).style("font-size", "16px")
  .text("G (Experimental)");
const l2 = leg.append("text").attr("x", 465).attr("y", 129)
  .attr("fill", corTexto).style("font-size", "16px");
l2.append("tspan").text("G");
l2.append("tspan").attr("dy", 5).style("font-size", "10px").text("zm");
l2.append("tspan").attr("dy", 5).style("font-size", "8px").text("1");
l2.append("tspan").attr("dy", -10).text("\u00a0 (Proposto)");
</script>
</body>
</html>
